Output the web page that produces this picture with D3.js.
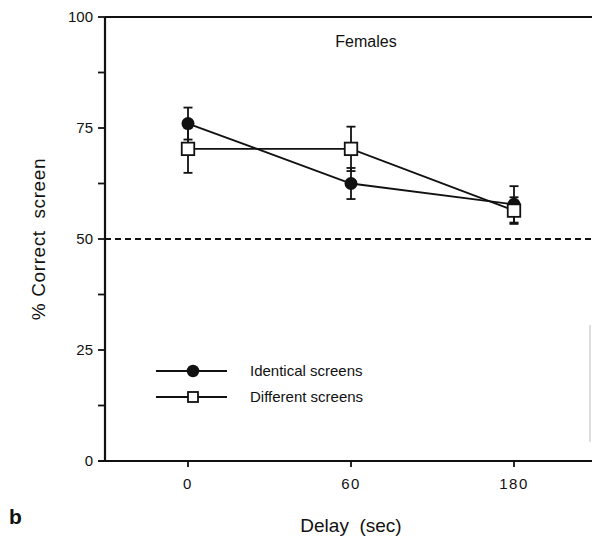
<!DOCTYPE html>
<html>
<head>
<meta charset="utf-8">
<script src="https://cdn.jsdelivr.net/npm/d3@7"></script>
<style>
  body { margin: 0; background: #fff; }
  svg text { font-family: "Liberation Sans", Arial, sans-serif; fill: #111; }
</style>
</head>
<body>
<svg id="chart" width="594" height="541"></svg>
<script>
// delays (categorical x)
const delays = ['0', '60', '180'];
// % correct, identical screens (filled circles)
const identicalMean = [76.0, 62.5, 57.8];
const identicalErr = [3.6, 3.5, 4.1];
// % correct, different screens (open squares)
const differentMean = [70.3, 70.3, 56.4];
const differentErr = [5.4, 5.0, 3.0];
const yTicks = [0, 25, 50, 75, 100];
const yMinorTicks = [12.5, 37.5, 62.5, 87.5];
const chance = 50;

const svg = d3.select('#chart');
const plotLeft = 105, plotRight = 592, plotTop = 17, plotBottom = 461;

const x = d3.scalePoint().domain(delays).range([188, 514]);
const y = d3.scaleLinear().domain([0, 100]).range([plotBottom, plotTop]);

const series = [
  { name: 'Identical screens', mean: identicalMean, err: identicalErr, shape: 'circle' },
  { name: 'Different screens', mean: differentMean, err: differentErr, shape: 'square' }
];

// frame: left, top, bottom lines
svg.append('line').attr('x1', plotLeft).attr('x2', plotLeft).attr('y1', plotTop).attr('y2', plotBottom)
  .attr('stroke', '#111').attr('stroke-width', 2.2);
svg.append('line').attr('x1', plotLeft).attr('x2', plotRight).attr('y1', plotTop).attr('y2', plotTop)
  .attr('stroke', '#111').attr('stroke-width', 2.2);
svg.append('line').attr('x1', plotLeft - 7).attr('x2', plotRight).attr('y1', plotBottom).attr('y2', plotBottom)
  .attr('stroke', '#111').attr('stroke-width', 2.2);
// faint scan remnant on the right edge
svg.append('line').attr('x1', 590).attr('x2', 590).attr('y1', 325).attr('y2', 442)
  .attr('stroke', '#bbb').attr('stroke-width', 1);

// y ticks
svg.selectAll('.ytick').data(yTicks.concat(yMinorTicks)).join('line')
  .attr('x1', plotLeft - 7).attr('x2', plotLeft)
  .attr('y1', d => y(d)).attr('y2', d => y(d))
  .attr('stroke', '#111').attr('stroke-width', 1.8);
svg.selectAll('.ylab').data(yTicks).join('text')
  .attr('x', 93).attr('y', d => y(d)).attr('dy', '0.36em')
  .attr('text-anchor', 'end').attr('font-size', 15)
  .text(d => d);

// x ticks
svg.selectAll('.xtick').data(delays).join('line')
  .attr('x1', d => x(d)).attr('x2', d => x(d))
  .attr('y1', plotBottom).attr('y2', plotBottom + 6)
  .attr('stroke', '#111').attr('stroke-width', 1.8);
svg.selectAll('.xlab').data(delays).join('text')
  .attr('x', d => x(d)).attr('y', 489)
  .attr('text-anchor', 'middle').attr('font-size', 15).attr('letter-spacing', 1.5)
  .text(d => d);

// chance line
svg.append('line').attr('x1', plotLeft).attr('x2', plotRight).attr('y1', y(chance)).attr('y2', y(chance))
  .attr('stroke', '#111').attr('stroke-width', 1.8).attr('stroke-dasharray', '6,4');

// axis titles
svg.append('text').attr('transform', `translate(45,${(plotTop + plotBottom) / 2}) rotate(-90)`)
  .attr('text-anchor', 'middle').attr('font-size', 19).attr('letter-spacing', 0.6)
  .attr('xml:space', 'preserve').text('% Correct  screen');
svg.append('text').attr('x', 351).attr('y', 532).attr('text-anchor', 'middle')
  .attr('font-size', 19).attr('xml:space', 'preserve').text('Delay  (sec)');
svg.append('text').attr('x', 366).attr('y', 47).attr('text-anchor', 'middle')
  .attr('font-size', 16).text('Females');
svg.append('text').attr('x', 9).attr('y', 524).attr('font-size', 21).attr('font-weight', 'bold')
  .text('b');

const line = d3.line().x((d, i) => x(delays[i])).y(d => y(d));

function drawMarker(g, shape, cx, cy, size) {
  if (shape === 'circle') {
    g.append('circle').attr('cx', cx).attr('cy', cy).attr('r', size / 2).attr('fill', '#111');
  } else {
    g.append('rect').attr('x', cx - size / 2).attr('y', cy - size / 2)
      .attr('width', size).attr('height', size)
      .attr('fill', '#fff').attr('stroke', '#111').attr('stroke-width', 1.8);
  }
}

series.forEach(s => {
  const g = svg.append('g');
  // error bars
  s.mean.forEach((m, i) => {
    const cx = x(delays[i]);
    g.append('line').attr('x1', cx).attr('x2', cx)
      .attr('y1', y(m + s.err[i])).attr('y2', y(m - s.err[i]))
      .attr('stroke', '#111').attr('stroke-width', 1.8);
    [m + s.err[i], m - s.err[i]].forEach(v => {
      g.append('line').attr('x1', cx - 4.5).attr('x2', cx + 4.5)
        .attr('y1', y(v)).attr('y2', y(v))
        .attr('stroke', '#111').attr('stroke-width', 1.8);
    });
  });
  g.append('path').datum(s.mean).attr('d', line)
    .attr('fill', 'none').attr('stroke', '#111').attr('stroke-width', 1.8);
});

// markers: circles first, open squares drawn over them
series.forEach(s => {
  const g = svg.append('g');
  s.mean.forEach((m, i) => drawMarker(g, s.shape, x(delays[i]), y(m), s.shape === 'circle' ? 13 : 12.5));
});

// legend
const legendY = [371, 397];
series.forEach((s, i) => {
  const g = svg.append('g');
  g.append('line').attr('x1', 156).attr('x2', 227).attr('y1', legendY[i]).attr('y2', legendY[i])
    .attr('stroke', '#111').attr('stroke-width', 1.8);
  drawMarker(g, s.shape, 193, legendY[i], s.shape === 'circle' ? 12.5 : 10);
  g.append('text').attr('x', 250).attr('y', legendY[i]).attr('dy', '0.36em')
    .attr('font-size', 15).text(s.name);
});
</script>
</body>
</html>
